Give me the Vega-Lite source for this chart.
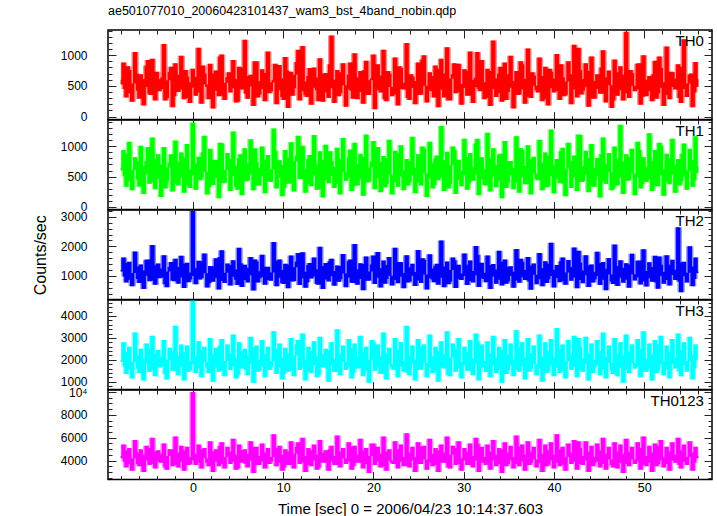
{
"$schema": "https://vega.github.io/schema/vega-lite/v6.json",
"background": "white",
"padding": {"left": 31, "top": 4, "right": 0, "bottom": 0},
"spacing": 0,
"bounds": "flush",
"config": {
  "view": {"stroke": "black", "strokeWidth": 1.5},
  "font": "Liberation Sans",
  "concat": {"spacing": 0},
  "axis": {"domain": false, "grid": false, "tickColor": "#222", "tickWidth": 1, "labelFont": "Liberation Sans", "labelFontSize": 12, "labelColor": "black", "titleFont": "Liberation Sans", "titleFontSize": 16, "titleFontWeight": "normal", "titleColor": "black", "labelFlush": false, "labelOverlap": false}
},
"datasets": {"lc": [
{"t":-8,"a":520,"b":600,"c":1150,"d":1900,"e":4200},
{"t":-7.68,"a":880,"b":940,"c":1620,"d":2800,"e":5400},
{"t":-7.36,"a":310,"b":330,"c":780,"d":1350,"e":3400},
{"t":-7.04,"a":760,"b":1080,"c":1480,"d":2600,"e":5100},
{"t":-6.72,"a":240,"b":270,"c":650,"d":1150,"e":3100},
{"t":-6.4,"a":1050,"b":820,"c":1830,"d":3250,"e":5800},
{"t":-6.08,"a":420,"b":450,"c":900,"d":1600,"e":3700},
{"t":-5.76,"a":690,"b":1010,"c":1390,"d":2500,"e":5000},
{"t":-5.44,"a":180,"b":210,"c":560,"d":1050,"e":3000},
{"t":-5.12,"a":830,"b":760,"c":1550,"d":2750,"e":5300},
{"t":-4.8,"a":370,"b":380,"c":820,"d":1450,"e":3600},
{"t":-4.48,"a":940,"b":1150,"c":2050,"d":3100,"e":6000},
{"t":-4.16,"a":260,"b":290,"c":700,"d":1250,"e":3300},
{"t":-3.84,"a":610,"b":870,"c":1420,"d":2450,"e":4900},
{"t":-3.52,"a":450,"b":160,"c":950,"d":1700,"e":3800},
{"t":-3.2,"a":1180,"b":990,"c":1700,"d":2900,"e":5500},
{"t":-2.88,"a":300,"b":420,"c":620,"d":1100,"e":3200},
{"t":-2.56,"a":720,"b":730,"c":1300,"d":2550,"e":5000},
{"t":-2.24,"a":150,"b":250,"c":850,"d":1500,"e":3500},
{"t":-1.92,"a":870,"b":1100,"c":1580,"d":3550,"e":6100},
{"t":-1.6,"a":400,"b":350,"c":740,"d":1300,"e":3400},
{"t":-1.28,"a":990,"b":900,"c":1680,"d":2700,"e":5300},
{"t":-0.96,"a":280,"b":230,"c":590,"d":1050,"e":3100},
{"t":-0.64,"a":650,"b":1040,"c":1450,"d":2650,"e":5200},
{"t":-0.32,"a":220,"b":310,"c":880,"d":1550,"e":3700},
{"t":0,"a":780,"b":1400,"c":3200,"d":4700,"e":10000},
{"t":0.32,"a":340,"b":280,"c":720,"d":1400,"e":3600},
{"t":0.64,"a":1120,"b":830,"c":1510,"d":2850,"e":5400},
{"t":0.96,"a":210,"b":470,"c":930,"d":1200,"e":3300},
{"t":1.28,"a":700,"b":1180,"c":1760,"d":2600,"e":5100},
{"t":1.6,"a":480,"b":200,"c":610,"d":1650,"e":3800},
{"t":1.92,"a":860,"b":960,"c":1340,"d":3000,"e":5700},
{"t":2.24,"a":130,"b":360,"c":800,"d":1000,"e":3000},
{"t":2.56,"a":750,"b":780,"c":1600,"d":2550,"e":5000},
{"t":2.88,"a":330,"b":140,"c":540,"d":1450,"e":3500},
{"t":3.2,"a":1010,"b":1050,"c":1870,"d":2950,"e":5600},
{"t":3.52,"a":270,"b":400,"c":760,"d":1250,"e":3300},
{"t":3.84,"a":640,"b":890,"c":1420,"d":2700,"e":5200},
{"t":4.16,"a":390,"b":260,"c":680,"d":1550,"e":3700},
{"t":4.48,"a":920,"b":1250,"c":1530,"d":3150,"e":5900},
{"t":4.8,"a":230,"b":330,"c":870,"d":1150,"e":3200},
{"t":5.12,"a":810,"b":800,"c":1950,"d":2800,"e":5400},
{"t":5.44,"a":440,"b":190,"c":630,"d":1600,"e":3800},
{"t":5.76,"a":1250,"b":970,"c":1380,"d":2500,"e":5000},
{"t":6.08,"a":290,"b":440,"c":780,"d":1300,"e":3400},
{"t":6.4,"a":680,"b":1120,"c":1640,"d":3050,"e":5700},
{"t":6.72,"a":170,"b":270,"c":510,"d":950,"e":2900},
{"t":7.04,"a":900,"b":740,"c":1490,"d":2650,"e":5200},
{"t":7.36,"a":360,"b":350,"c":920,"d":1500,"e":3600},
{"t":7.68,"a":770,"b":1000,"c":1720,"d":2900,"e":5500},
{"t":8,"a":250,"b":220,"c":700,"d":1200,"e":3300},
{"t":8.32,"a":1060,"b":860,"c":1310,"d":2600,"e":5100},
{"t":8.64,"a":410,"b":410,"c":840,"d":1700,"e":3900},
{"t":8.96,"a":600,"b":1300,"c":2150,"d":3300,"e":6300},
{"t":9.28,"a":200,"b":300,"c":650,"d":1350,"e":3500},
{"t":9.6,"a":840,"b":770,"c":1560,"d":2750,"e":5300},
{"t":9.92,"a":320,"b":170,"c":760,"d":1100,"e":3100},
{"t":10.24,"a":970,"b":940,"c":1410,"d":2550,"e":5000},
{"t":10.56,"a":140,"b":380,"c":580,"d":1450,"e":3600},
{"t":10.88,"a":730,"b":1070,"c":1690,"d":3000,"e":5700},
{"t":11.2,"a":460,"b":250,"c":830,"d":1250,"e":3300},
{"t":11.52,"a":890,"b":850,"c":1480,"d":2700,"e":5200},
{"t":11.84,"a":260,"b":460,"c":690,"d":1550,"e":3700},
{"t":12.16,"a":1150,"b":1010,"c":1800,"d":3200,"e":6000},
{"t":12.48,"a":350,"b":230,"c":600,"d":1050,"e":3000},
{"t":12.8,"a":660,"b":790,"c":1370,"d":2600,"e":5100},
{"t":13.12,"a":190,"b":340,"c":910,"d":1400,"e":3500},
{"t":13.44,"a":800,"b":1190,"c":1620,"d":2850,"e":5400},
{"t":13.76,"a":430,"b":280,"c":740,"d":1200,"e":3200},
{"t":14.08,"a":950,"b":920,"c":1990,"d":3050,"e":5800},
{"t":14.4,"a":240,"b":150,"c":560,"d":1650,"e":3800},
{"t":14.72,"a":710,"b":1030,"c":1440,"d":2500,"e":4900},
{"t":15.04,"a":300,"b":390,"c":810,"d":1000,"e":3100},
{"t":15.36,"a":1320,"b":760,"c":1580,"d":2800,"e":5300},
{"t":15.68,"a":220,"b":310,"c":670,"d":1450,"e":3600},
{"t":16,"a":760,"b":980,"c":1350,"d":3400,"e":6200},
{"t":16.32,"a":380,"b":200,"c":890,"d":1300,"e":3400},
{"t":16.64,"a":870,"b":1140,"c":1740,"d":2650,"e":5100},
{"t":16.96,"a":160,"b":430,"c":620,"d":1550,"e":3700},
{"t":17.28,"a":680,"b":820,"c":1500,"d":2950,"e":5600},
{"t":17.6,"a":420,"b":260,"c":780,"d":1150,"e":3200},
{"t":17.92,"a":1030,"b":1060,"c":2080,"d":2750,"e":5300},
{"t":18.24,"a":280,"b":350,"c":700,"d":1600,"e":3800},
{"t":18.56,"a":740,"b":880,"c":1430,"d":3100,"e":5900},
{"t":18.88,"a":210,"b":180,"c":520,"d":1250,"e":3300},
{"t":19.2,"a":910,"b":1200,"c":1660,"d":2600,"e":5100},
{"t":19.52,"a":350,"b":420,"c":850,"d":950,"e":2900},
{"t":19.84,"a":620,"b":750,"c":1390,"d":2900,"e":5500},
{"t":20.16,"a":120,"b":290,"c":730,"d":1500,"e":3600},
{"t":20.48,"a":850,"b":990,"c":1810,"d":2700,"e":5200},
{"t":20.8,"a":390,"b":240,"c":610,"d":1350,"e":3400},
{"t":21.12,"a":1090,"b":840,"c":1520,"d":3250,"e":6100},
{"t":21.44,"a":250,"b":370,"c":900,"d":1100,"e":3100},
{"t":21.76,"a":700,"b":1110,"c":1640,"d":2550,"e":5000},
{"t":22.08,"a":330,"b":200,"c":680,"d":1650,"e":3800},
{"t":22.4,"a":960,"b":930,"c":1950,"d":3000,"e":5700},
{"t":22.72,"a":180,"b":330,"c":750,"d":1200,"e":3300},
{"t":23.04,"a":790,"b":1020,"c":1460,"d":2800,"e":5400},
{"t":23.36,"a":440,"b":270,"c":580,"d":1450,"e":3500},
{"t":23.68,"a":1200,"b":790,"c":1700,"d":3550,"e":6400},
{"t":24,"a":270,"b":410,"c":820,"d":1300,"e":3400},
{"t":24.32,"a":650,"b":1160,"c":1410,"d":2650,"e":5200},
{"t":24.64,"a":200,"b":220,"c":660,"d":1050,"e":3000},
{"t":24.96,"a":880,"b":870,"c":1880,"d":2950,"e":5600},
{"t":25.28,"a":360,"b":350,"c":760,"d":1550,"e":3700},
{"t":25.6,"a":1000,"b":960,"c":1550,"d":2700,"e":5300},
{"t":25.92,"a":230,"b":160,"c":540,"d":1200,"e":3200},
{"t":26.24,"a":720,"b":1080,"c":1730,"d":3150,"e":5900},
{"t":26.56,"a":410,"b":300,"c":880,"d":1400,"e":3500},
{"t":26.88,"a":830,"b":800,"c":1340,"d":2600,"e":5100},
{"t":27.2,"a":150,"b":440,"c":700,"d":1000,"e":3000},
{"t":27.52,"a":940,"b":1340,"c":2200,"d":2850,"e":5400},
{"t":27.84,"a":310,"b":260,"c":620,"d":1600,"e":3800},
{"t":28.16,"a":1130,"b":910,"c":1490,"d":3300,"e":6100},
{"t":28.48,"a":260,"b":380,"c":810,"d":1250,"e":3300},
{"t":28.8,"a":690,"b":1000,"c":1620,"d":2750,"e":5300},
{"t":29.12,"a":380,"b":210,"c":590,"d":1450,"e":3600},
{"t":29.44,"a":860,"b":780,"c":1380,"d":3000,"e":5700},
{"t":29.76,"a":190,"b":340,"c":860,"d":1150,"e":3100},
{"t":30.08,"a":770,"b":1130,"c":1760,"d":2600,"e":5100},
{"t":30.4,"a":340,"b":280,"c":690,"d":1500,"e":3600},
{"t":30.72,"a":1060,"b":890,"c":1520,"d":2900,"e":5500},
{"t":31.04,"a":220,"b":430,"c":780,"d":1300,"e":3400},
{"t":31.36,"a":630,"b":1050,"c":2010,"d":3200,"e":6000},
{"t":31.68,"a":450,"b":190,"c":630,"d":1050,"e":3000},
{"t":32,"a":920,"b":820,"c":1450,"d":2700,"e":5200},
{"t":32.32,"a":280,"b":360,"c":900,"d":1650,"e":3800},
{"t":32.64,"a":780,"b":1230,"c":1690,"d":2850,"e":5400},
{"t":32.96,"a":170,"b":250,"c":560,"d":1200,"e":3200},
{"t":33.28,"a":1240,"b":970,"c":1400,"d":3100,"e":5800},
{"t":33.6,"a":320,"b":320,"c":740,"d":1400,"e":3500},
{"t":33.92,"a":700,"b":860,"c":1850,"d":2600,"e":5100},
{"t":34.24,"a":240,"b":140,"c":680,"d":950,"e":2900},
{"t":34.56,"a":880,"b":1090,"c":1560,"d":2950,"e":5600},
{"t":34.88,"a":400,"b":400,"c":820,"d":1550,"e":3700},
{"t":35.2,"a":990,"b":760,"c":1330,"d":2750,"e":5300},
{"t":35.52,"a":130,"b":290,"c":600,"d":1250,"e":3300},
{"t":35.84,"a":740,"b":1170,"c":1910,"d":3350,"e":6200},
{"t":36.16,"a":360,"b":230,"c":770,"d":1450,"e":3500},
{"t":36.48,"a":850,"b":940,"c":1480,"d":2800,"e":5400},
{"t":36.8,"a":210,"b":370,"c":860,"d":1100,"e":3100},
{"t":37.12,"a":1110,"b":1020,"c":1640,"d":3000,"e":5700},
{"t":37.44,"a":300,"b":200,"c":530,"d":1600,"e":3800},
{"t":37.76,"a":670,"b":830,"c":1420,"d":2650,"e":5200},
{"t":38.08,"a":430,"b":450,"c":720,"d":1300,"e":3400},
{"t":38.4,"a":960,"b":1110,"c":1780,"d":3150,"e":5900},
{"t":38.72,"a":250,"b":270,"c":650,"d":1000,"e":3000},
{"t":39.04,"a":810,"b":900,"c":1500,"d":2800,"e":5400},
{"t":39.36,"a":180,"b":340,"c":890,"d":1500,"e":3600},
{"t":39.68,"a":730,"b":1280,"c":2120,"d":2950,"e":5600},
{"t":40,"a":390,"b":220,"c":610,"d":1250,"e":3300},
{"t":40.32,"a":1020,"b":790,"c":1370,"d":3450,"e":6300},
{"t":40.64,"a":270,"b":390,"c":790,"d":1400,"e":3500},
{"t":40.96,"a":640,"b":980,"c":1620,"d":2700,"e":5200},
{"t":41.28,"a":350,"b":170,"c":700,"d":1150,"e":3100},
{"t":41.6,"a":900,"b":1060,"c":1540,"d":2900,"e":5500},
{"t":41.92,"a":200,"b":310,"c":840,"d":1550,"e":3700},
{"t":42.24,"a":1170,"b":850,"c":1960,"d":3100,"e":5800},
{"t":42.56,"a":310,"b":260,"c":580,"d":1200,"e":3200},
{"t":42.88,"a":760,"b":1190,"c":1450,"d":2600,"e":5100},
{"t":43.2,"a":420,"b":420,"c":750,"d":1450,"e":3600},
{"t":43.52,"a":870,"b":930,"c":1700,"d":3050,"e":5700},
{"t":43.84,"a":160,"b":240,"c":630,"d":1050,"e":3000},
{"t":44.16,"a":980,"b":1040,"c":1390,"d":2750,"e":5300},
{"t":44.48,"a":290,"b":330,"c":880,"d":1650,"e":3800},
{"t":44.8,"a":690,"b":810,"c":1820,"d":2900,"e":5500},
{"t":45.12,"a":370,"b":150,"c":690,"d":1300,"e":3400},
{"t":45.44,"a":1080,"b":1150,"c":1470,"d":3250,"e":6000},
{"t":45.76,"a":230,"b":380,"c":520,"d":1150,"e":3200},
{"t":46.08,"a":750,"b":890,"c":1610,"d":2650,"e":5200},
{"t":46.4,"a":140,"b":270,"c":810,"d":1500,"e":3600},
{"t":46.72,"a":930,"b":1000,"c":2060,"d":3000,"e":5600},
{"t":47.04,"a":340,"b":350,"c":660,"d":1250,"e":3300},
{"t":47.36,"a":820,"b":1360,"c":1530,"d":2800,"e":5400},
{"t":47.68,"a":260,"b":210,"c":770,"d":950,"e":2900},
{"t":48,"a":1380,"b":870,"c":1430,"d":3150,"e":5900},
{"t":48.32,"a":300,"b":440,"c":600,"d":1400,"e":3500},
{"t":48.64,"a":710,"b":960,"c":1750,"d":2700,"e":5200},
{"t":48.96,"a":410,"b":190,"c":850,"d":1600,"e":3700},
{"t":49.28,"a":860,"b":1080,"c":1510,"d":2950,"e":5600},
{"t":49.6,"a":190,"b":300,"c":710,"d":1200,"e":3200},
{"t":49.92,"a":1000,"b":820,"c":1900,"d":3300,"e":6100},
{"t":50.24,"a":330,"b":410,"c":640,"d":1450,"e":3500},
{"t":50.56,"a":660,"b":1220,"c":1460,"d":2750,"e":5300},
{"t":50.88,"a":250,"b":260,"c":800,"d":1050,"e":3000},
{"t":51.2,"a":910,"b":940,"c":1680,"d":2900,"e":5500},
{"t":51.52,"a":380,"b":340,"c":570,"d":1550,"e":3700},
{"t":51.84,"a":790,"b":1010,"c":1380,"d":3100,"e":5800},
{"t":52.16,"a":170,"b":180,"c":740,"d":1300,"e":3400},
{"t":52.48,"a":1140,"b":880,"c":1700,"d":2650,"e":5200},
{"t":52.8,"a":280,"b":370,"c":680,"d":1150,"e":3100},
{"t":53.12,"a":720,"b":1130,"c":1550,"d":2950,"e":5600},
{"t":53.44,"a":440,"b":230,"c":860,"d":1600,"e":3800},
{"t":53.76,"a":850,"b":790,"c":2650,"d":3200,"e":6000},
{"t":54.08,"a":220,"b":420,"c":450,"d":1250,"e":3300},
{"t":54.4,"a":1260,"b":1050,"c":1480,"d":2800,"e":5400},
{"t":54.72,"a":320,"b":280,"c":780,"d":1450,"e":3600},
{"t":55.04,"a":680,"b":960,"c":2000,"d":3050,"e":5700},
{"t":55.36,"a":150,"b":330,"c":650,"d":1100,"e":3100},
{"t":55.68,"a":890,"b":1170,"c":1620,"d":2700,"e":5200},
{"t":56,"a":480,"b":560,"c":1100,"d":2000,"e":4200},
{"t":-7.84,"a":600,"b":650,"c":1200,"d":2000,"e":4400},
{"t":-7.52,"a":450,"b":500,"c":980,"d":1700,"e":3900},
{"t":-7.2,"a":820,"b":880,"c":1450,"d":2350,"e":4900},
{"t":-6.88,"a":380,"b":420,"c":870,"d":1550,"e":3700},
{"t":-6.56,"a":540,"b":610,"c":1100,"d":1900,"e":4200},
{"t":-6.24,"a":700,"b":760,"c":1320,"d":2200,"e":4700},
{"t":-5.92,"a":290,"b":330,"c":760,"d":1400,"e":3500},
{"t":-5.6,"a":610,"b":680,"c":1180,"d":2050,"e":4500},
{"t":-5.28,"a":480,"b":540,"c":1010,"d":1800,"e":4000},
{"t":-4.96,"a":920,"b":990,"c":1560,"d":2500,"e":5100},
{"t":-4.64,"a":350,"b":400,"c":840,"d":1500,"e":3700},
{"t":-4.32,"a":560,"b":620,"c":1130,"d":1950,"e":4300},
{"t":-4,"a":730,"b":790,"c":1380,"d":2300,"e":4800},
{"t":-3.68,"a":410,"b":460,"c":920,"d":1650,"e":3900},
{"t":-3.36,"a":640,"b":700,"c":1250,"d":2150,"e":4600},
{"t":-3.04,"a":260,"b":300,"c":720,"d":1350,"e":3400},
{"t":-2.72,"a":590,"b":650,"c":1150,"d":2000,"e":4400},
{"t":-2.4,"a":810,"b":870,"c":1470,"d":2400,"e":5000},
{"t":-2.08,"a":330,"b":380,"c":820,"d":1500,"e":3600},
{"t":-1.76,"a":500,"b":560,"c":1060,"d":1850,"e":4100},
{"t":-1.44,"a":680,"b":740,"c":1300,"d":2200,"e":4700},
{"t":-1.12,"a":440,"b":490,"c":950,"d":1700,"e":3900},
{"t":-0.8,"a":760,"b":820,"c":1420,"d":2350,"e":4900},
{"t":-0.48,"a":300,"b":350,"c":790,"d":1450,"e":3600},
{"t":-0.16,"a":560,"b":620,"c":1120,"d":1950,"e":4300},
{"t":0.16,"a":470,"b":520,"c":1000,"d":1800,"e":4000},
{"t":0.48,"a":650,"b":720,"c":1260,"d":2150,"e":4600},
{"t":0.8,"a":390,"b":440,"c":880,"d":1600,"e":3800},
{"t":1.12,"a":830,"b":900,"c":1500,"d":2450,"e":5000},
{"t":1.44,"a":520,"b":580,"c":1090,"d":1900,"e":4200},
{"t":1.76,"a":280,"b":320,"c":750,"d":1400,"e":3500},
{"t":2.08,"a":700,"b":770,"c":1330,"d":2250,"e":4800},
{"t":2.4,"a":600,"b":660,"c":1190,"d":2050,"e":4400},
{"t":2.72,"a":420,"b":470,"c":930,"d":1650,"e":3900},
{"t":3.04,"a":980,"b":1060,"c":1640,"d":2650,"e":5300},
{"t":3.36,"a":340,"b":390,"c":830,"d":1500,"e":3700},
{"t":3.68,"a":550,"b":610,"c":1110,"d":1950,"e":4300},
{"t":4,"a":720,"b":790,"c":1370,"d":2300,"e":4800},
{"t":4.32,"a":460,"b":510,"c":970,"d":1700,"e":3900},
{"t":4.64,"a":610,"b":680,"c":1220,"d":2100,"e":4500},
{"t":4.96,"a":240,"b":280,"c":690,"d":1300,"e":3300},
{"t":5.28,"a":800,"b":870,"c":1430,"d":2400,"e":4900},
{"t":5.6,"a":530,"b":590,"c":1080,"d":1900,"e":4200},
{"t":5.92,"a":370,"b":420,"c":860,"d":1550,"e":3700},
{"t":6.24,"a":660,"b":720,"c":1280,"d":2200,"e":4600},
{"t":6.56,"a":490,"b":540,"c":1020,"d":1800,"e":4000},
{"t":6.88,"a":900,"b":970,"c":1560,"d":2550,"e":5200},
{"t":7.2,"a":310,"b":360,"c":780,"d":1450,"e":3600},
{"t":7.52,"a":580,"b":640,"c":1160,"d":2000,"e":4400},
{"t":7.84,"a":450,"b":500,"c":960,"d":1700,"e":3900},
{"t":8.16,"a":710,"b":780,"c":1310,"d":2250,"e":4700},
{"t":8.48,"a":380,"b":430,"c":860,"d":1550,"e":3700},
{"t":8.8,"a":560,"b":620,"c":1120,"d":1950,"e":4300},
{"t":9.12,"a":860,"b":930,"c":1520,"d":2500,"e":5100},
{"t":9.44,"a":430,"b":480,"c":940,"d":1650,"e":3800},
{"t":9.76,"a":620,"b":690,"c":1200,"d":2100,"e":4500},
{"t":10.08,"a":270,"b":310,"c":730,"d":1350,"e":3400},
{"t":10.4,"a":750,"b":820,"c":1390,"d":2300,"e":4800},
{"t":10.72,"a":500,"b":560,"c":1050,"d":1850,"e":4100},
{"t":11.04,"a":340,"b":390,"c":810,"d":1500,"e":3600},
{"t":11.36,"a":680,"b":750,"c":1290,"d":2200,"e":4600},
{"t":11.68,"a":1090,"b":1180,"c":1780,"d":2900,"e":5600},
{"t":12,"a":410,"b":460,"c":920,"d":1650,"e":3800},
{"t":12.32,"a":570,"b":630,"c":1140,"d":2000,"e":4400},
{"t":12.64,"a":320,"b":370,"c":790,"d":1450,"e":3600},
{"t":12.96,"a":790,"b":860,"c":1440,"d":2400,"e":4900},
{"t":13.28,"a":470,"b":520,"c":980,"d":1750,"e":4000},
{"t":13.6,"a":630,"b":700,"c":1230,"d":2150,"e":4500},
{"t":13.92,"a":250,"b":290,"c":700,"d":1300,"e":3400},
{"t":14.24,"a":700,"b":770,"c":1340,"d":2250,"e":4700},
{"t":14.56,"a":540,"b":600,"c":1090,"d":1900,"e":4200},
{"t":14.88,"a":390,"b":440,"c":880,"d":1600,"e":3800},
{"t":15.2,"a":850,"b":920,"c":1500,"d":2450,"e":5000},
{"t":15.52,"a":460,"b":510,"c":990,"d":1750,"e":3900},
{"t":15.84,"a":600,"b":660,"c":1170,"d":2050,"e":4400},
{"t":16.16,"a":330,"b":380,"c":800,"d":1450,"e":3600},
{"t":16.48,"a":720,"b":790,"c":1340,"d":2250,"e":4800},
{"t":16.8,"a":510,"b":570,"c":1080,"d":1900,"e":4200},
{"t":17.12,"a":440,"b":490,"c":950,"d":1700,"e":3900},
{"t":17.44,"a":880,"b":950,"c":1560,"d":2550,"e":5200},
{"t":17.76,"a":290,"b":340,"c":760,"d":1400,"e":3500},
{"t":18.08,"a":640,"b":710,"c":1230,"d":2150,"e":4500},
{"t":18.4,"a":560,"b":620,"c":1110,"d":1950,"e":4300},
{"t":18.72,"a":400,"b":450,"c":900,"d":1600,"e":3800},
{"t":19.04,"a":760,"b":830,"c":1400,"d":2350,"e":4900},
{"t":19.36,"a":350,"b":400,"c":840,"d":1500,"e":3700},
{"t":19.68,"a":590,"b":650,"c":1150,"d":2000,"e":4400},
{"t":20,"a":1010,"b":1090,"c":1690,"d":2800,"e":5500},
{"t":20.32,"a":430,"b":480,"c":940,"d":1650,"e":3900},
{"t":20.64,"a":520,"b":580,"c":1060,"d":1850,"e":4100},
{"t":20.96,"a":670,"b":740,"c":1260,"d":2200,"e":4600},
{"t":21.28,"a":280,"b":320,"c":740,"d":1350,"e":3500},
{"t":21.6,"a":740,"b":810,"c":1370,"d":2300,"e":4800},
{"t":21.92,"a":480,"b":530,"c":1010,"d":1800,"e":4000},
{"t":22.24,"a":360,"b":410,"c":860,"d":1550,"e":3700},
{"t":22.56,"a":610,"b":670,"c":1190,"d":2100,"e":4500},
{"t":22.88,"a":820,"b":890,"c":1470,"d":2450,"e":5000},
{"t":23.2,"a":450,"b":500,"c":970,"d":1700,"e":3900},
{"t":23.52,"a":550,"b":610,"c":1100,"d":1950,"e":4300},
{"t":23.84,"a":300,"b":350,"c":780,"d":1400,"e":3500},
{"t":24.16,"a":690,"b":760,"c":1290,"d":2200,"e":4700},
{"t":24.48,"a":470,"b":520,"c":1010,"d":1800,"e":4000},
{"t":24.8,"a":580,"b":640,"c":1130,"d":2000,"e":4300},
{"t":25.12,"a":350,"b":400,"c":850,"d":1550,"e":3700},
{"t":25.44,"a":930,"b":1000,"c":1600,"d":2600,"e":5200},
{"t":25.76,"a":500,"b":560,"c":1050,"d":1850,"e":4100},
{"t":26.08,"a":420,"b":470,"c":920,"d":1650,"e":3800},
{"t":26.4,"a":660,"b":730,"c":1250,"d":2150,"e":4600},
{"t":26.72,"a":310,"b":360,"c":790,"d":1450,"e":3600},
{"t":27.04,"a":780,"b":850,"c":1410,"d":2400,"e":4900},
{"t":27.36,"a":560,"b":620,"c":1120,"d":1950,"e":4200},
{"t":27.68,"a":440,"b":490,"c":940,"d":1650,"e":3800},
{"t":28,"a":700,"b":770,"c":1320,"d":2250,"e":4700},
{"t":28.32,"a":260,"b":300,"c":720,"d":1300,"e":3400},
{"t":28.64,"a":620,"b":690,"c":1200,"d":2100,"e":4500},
{"t":28.96,"a":870,"b":940,"c":1530,"d":2500,"e":5100},
{"t":29.28,"a":390,"b":440,"c":890,"d":1600,"e":3700},
{"t":29.6,"a":530,"b":590,"c":1080,"d":1900,"e":4200},
{"t":29.92,"a":470,"b":520,"c":1000,"d":1750,"e":4000},
{"t":30.24,"a":750,"b":820,"c":1380,"d":2350,"e":4800},
{"t":30.56,"a":340,"b":390,"c":830,"d":1500,"e":3600},
{"t":30.88,"a":600,"b":660,"c":1170,"d":2050,"e":4400},
{"t":31.2,"a":480,"b":530,"c":1020,"d":1800,"e":4000},
{"t":31.52,"a":1050,"b":1130,"c":1720,"d":2850,"e":5500},
{"t":31.84,"a":410,"b":460,"c":910,"d":1600,"e":3800},
{"t":32.16,"a":560,"b":620,"c":1110,"d":1950,"e":4300},
{"t":32.48,"a":300,"b":350,"c":790,"d":1450,"e":3600},
{"t":32.8,"a":740,"b":810,"c":1370,"d":2300,"e":4800},
{"t":33.12,"a":450,"b":500,"c":980,"d":1750,"e":4000},
{"t":33.44,"a":620,"b":690,"c":1220,"d":2100,"e":4500},
{"t":33.76,"a":380,"b":430,"c":870,"d":1550,"e":3700},
{"t":34.08,"a":810,"b":880,"c":1480,"d":2450,"e":5000},
{"t":34.4,"a":520,"b":580,"c":1060,"d":1850,"e":4100},
{"t":34.72,"a":270,"b":310,"c":740,"d":1350,"e":3500},
{"t":35.04,"a":690,"b":760,"c":1310,"d":2250,"e":4700},
{"t":35.36,"a":470,"b":520,"c":1000,"d":1750,"e":4000},
{"t":35.68,"a":580,"b":640,"c":1140,"d":2000,"e":4300},
{"t":36,"a":350,"b":400,"c":850,"d":1550,"e":3700},
{"t":36.32,"a":900,"b":970,"c":1580,"d":2600,"e":5200},
{"t":36.64,"a":440,"b":490,"c":960,"d":1700,"e":3900},
{"t":36.96,"a":610,"b":680,"c":1200,"d":2100,"e":4500},
{"t":37.28,"a":320,"b":370,"c":810,"d":1450,"e":3600},
{"t":37.6,"a":720,"b":790,"c":1350,"d":2300,"e":4800},
{"t":37.92,"a":500,"b":550,"c":1040,"d":1800,"e":4100},
{"t":38.24,"a":390,"b":440,"c":890,"d":1600,"e":3800},
{"t":38.56,"a":660,"b":730,"c":1260,"d":2150,"e":4600},
{"t":38.88,"a":540,"b":600,"c":1090,"d":1900,"e":4200},
{"t":39.2,"a":280,"b":320,"c":760,"d":1400,"e":3500},
{"t":39.52,"a":780,"b":850,"c":1420,"d":2400,"e":4900},
{"t":39.84,"a":460,"b":510,"c":1000,"d":1750,"e":4000},
{"t":40.16,"a":620,"b":690,"c":1210,"d":2100,"e":4500},
{"t":40.48,"a":410,"b":460,"c":930,"d":1650,"e":3800},
{"t":40.8,"a":850,"b":920,"c":1500,"d":2500,"e":5000},
{"t":41.12,"a":330,"b":380,"c":820,"d":1500,"e":3600},
{"t":41.44,"a":570,"b":630,"c":1120,"d":1950,"e":4300},
{"t":41.76,"a":690,"b":760,"c":1300,"d":2250,"e":4700},
{"t":42.08,"a":440,"b":490,"c":950,"d":1700,"e":3900},
{"t":42.4,"a":520,"b":580,"c":1070,"d":1850,"e":4100},
{"t":42.72,"a":1120,"b":1200,"c":1850,"d":3000,"e":5700},
{"t":43.04,"a":360,"b":410,"c":860,"d":1550,"e":3700},
{"t":43.36,"a":610,"b":670,"c":1180,"d":2050,"e":4400},
{"t":43.68,"a":480,"b":530,"c":1020,"d":1800,"e":4000},
{"t":44,"a":740,"b":810,"c":1360,"d":2300,"e":4800},
{"t":44.32,"a":290,"b":340,"c":780,"d":1400,"e":3500},
{"t":44.64,"a":580,"b":640,"c":1140,"d":2000,"e":4300},
{"t":44.96,"a":450,"b":500,"c":990,"d":1750,"e":3900},
{"t":45.28,"a":800,"b":870,"c":1440,"d":2400,"e":4900},
{"t":45.6,"a":370,"b":420,"c":870,"d":1550,"e":3700},
{"t":45.92,"a":640,"b":710,"c":1240,"d":2150,"e":4600},
{"t":46.24,"a":510,"b":570,"c":1050,"d":1850,"e":4100},
{"t":46.56,"a":260,"b":300,"c":730,"d":1350,"e":3400},
{"t":46.88,"a":720,"b":790,"c":1340,"d":2300,"e":4800},
{"t":47.2,"a":430,"b":480,"c":940,"d":1650,"e":3800},
{"t":47.52,"a":590,"b":650,"c":1160,"d":2000,"e":4400},
{"t":47.84,"a":680,"b":750,"c":1280,"d":2200,"e":4600},
{"t":48.16,"a":380,"b":430,"c":870,"d":1550,"e":3700},
{"t":48.48,"a":760,"b":830,"c":1390,"d":2350,"e":4800},
{"t":48.8,"a":500,"b":550,"c":1060,"d":1850,"e":4100},
{"t":49.12,"a":440,"b":490,"c":960,"d":1700,"e":3900},
{"t":49.44,"a":870,"b":940,"c":1520,"d":2500,"e":5100},
{"t":49.76,"a":320,"b":370,"c":810,"d":1450,"e":3600},
{"t":50.08,"a":600,"b":660,"c":1170,"d":2050,"e":4400},
{"t":50.4,"a":530,"b":590,"c":1080,"d":1900,"e":4200},
{"t":50.72,"a":410,"b":460,"c":920,"d":1600,"e":3800},
{"t":51.04,"a":690,"b":760,"c":1300,"d":2250,"e":4700},
{"t":51.36,"a":290,"b":340,"c":780,"d":1400,"e":3500},
{"t":51.68,"a":980,"b":1060,"c":1660,"d":2700,"e":5300},
{"t":52,"a":470,"b":520,"c":1010,"d":1800,"e":4000},
{"t":52.32,"a":560,"b":620,"c":1130,"d":1950,"e":4300},
{"t":52.64,"a":350,"b":400,"c":860,"d":1550,"e":3700},
{"t":52.96,"a":730,"b":800,"c":1380,"d":2350,"e":4800},
{"t":53.28,"a":480,"b":530,"c":1030,"d":1800,"e":4000},
{"t":53.6,"a":620,"b":690,"c":1210,"d":2100,"e":4500},
{"t":53.92,"a":300,"b":350,"c":800,"d":1450,"e":3600},
{"t":54.24,"a":810,"b":880,"c":1460,"d":2450,"e":4900},
{"t":54.56,"a":450,"b":500,"c":990,"d":1750,"e":3900},
{"t":54.88,"a":540,"b":600,"c":1110,"d":1950,"e":4300},
{"t":55.2,"a":700,"b":770,"c":1320,"d":2250,"e":4700},
{"t":55.52,"a":390,"b":440,"c":900,"d":1600,"e":3800},
{"t":55.84,"a":610,"b":670,"c":1150,"d":2000,"e":4400}
]},
"vconcat": [
{
  "width": 604, "height": 89.6,
  "title": {"text": "ae501077010_20060423101437_wam3_bst_4band_nobin.qdp", "anchor": "start", "frame": "group", "fontSize": 12.5, "fontWeight": "normal", "font": "Liberation Sans", "color": "black", "offset": 7},
  "layer": [
    {"data": {"name": "lc"},
     "transform": [{"window": [{"op": "min", "field": "a", "as": "lo"}, {"op": "max", "field": "a", "as": "hi"}], "sort": [{"field": "t", "order": "ascending"}], "frame": [-2, 2]}],
     "mark": {"type": "area", "color": "#ff0000", "opacity": 0.45, "interpolate": "step", "clip": true},
     "encoding": {
       "x": {"field": "t", "type": "quantitative", "scale": {"domain": [-9.4, 57.5], "nice": false, "zero": false}, "axis": null},
       "y": {"field": "hi", "type": "quantitative", "scale": {"domain": [-50, 1410], "nice": false, "zero": false}, "axis": null},
       "y2": {"field": "lo"}
     }},
    {"data": {"name": "lc"},
     "transform": [{"window": [{"op": "min", "field": "a", "as": "lo"}, {"op": "max", "field": "a", "as": "hi"}], "sort": [{"field": "t", "order": "ascending"}], "frame": [-1, 1]}],
     "mark": {"type": "area", "color": "#ff0000", "interpolate": "step", "clip": true},
     "encoding": {
       "x": {"field": "t", "type": "quantitative", "scale": {"domain": [-9.4, 57.5], "nice": false, "zero": false},
             "axis": {"orient": "bottom", "values": [-8,-6,-4,-2,0,2,4,6,8,10,12,14,16,18,20,22,24,26,28,30,32,34,36,38,40,42,44,46,48,50,52,54,56], "labels": false, "title": null, "tickSize": {"condition": {"test": "datum.value % 10 === 0", "value": -8}, "value": -4}}},
       "y": {"field": "hi", "type": "quantitative", "scale": {"domain": [-50, 1410], "nice": false, "zero": false},
             "axis": {"orient": "left", "values": [0,100,200,300,400,500,600,700,800,900,1000,1100,1200,1300,1400], "format": "d", "labelExpr": "datum.value % 500 === 0 ? datum.label : ''", "labelPadding": 29, "title": null, "tickSize": {"condition": {"test": "datum.value % 500 === 0", "value": -8}, "value": -4}}},
       "y2": {"field": "lo"}
     }},
    {"data": {"values": [{"lab": "TH0"}]}, "mark": {"type": "text", "align": "right", "baseline": "top", "dy": 4, "fontSize": 15, "color": "black"},
     "encoding": {
       "x": {"datum": 56.6, "type": "quantitative", "axis": {"orient": "top", "values": [-8,-6,-4,-2,0,2,4,6,8,10,12,14,16,18,20,22,24,26,28,30,32,34,36,38,40,42,44,46,48,50,52,54,56], "labels": false, "title": null, "tickSize": {"condition": {"test": "datum.value % 10 === 0", "value": -8}, "value": -4}}},
       "y": {"datum": 1410, "type": "quantitative", "axis": {"orient": "right", "values": [0,100,200,300,400,500,600,700,800,900,1000,1100,1200,1300,1400], "labels": false, "title": null, "tickSize": {"condition": {"test": "datum.value % 500 === 0", "value": -8}, "value": -4}}},
       "text": {"field": "lab"}
     }}
  ]
},
{
  "width": 604, "height": 89.6,
  "layer": [
    {"data": {"name": "lc"},
     "transform": [{"window": [{"op": "min", "field": "b", "as": "lo"}, {"op": "max", "field": "b", "as": "hi"}], "sort": [{"field": "t", "order": "ascending"}], "frame": [-2, 2]}],
     "mark": {"type": "area", "color": "#00ff00", "opacity": 0.45, "interpolate": "step", "clip": true},
     "encoding": {
       "x": {"field": "t", "type": "quantitative", "scale": {"domain": [-9.4, 57.5], "nice": false, "zero": false}, "axis": null},
       "y": {"field": "hi", "type": "quantitative", "scale": {"domain": [-50, 1440], "nice": false, "zero": false}, "axis": null},
       "y2": {"field": "lo"}
     }},
    {"data": {"name": "lc"},
     "transform": [{"window": [{"op": "min", "field": "b", "as": "lo"}, {"op": "max", "field": "b", "as": "hi"}], "sort": [{"field": "t", "order": "ascending"}], "frame": [-1, 1]}],
     "mark": {"type": "area", "color": "#00ff00", "interpolate": "step", "clip": true},
     "encoding": {
       "x": {"field": "t", "type": "quantitative", "scale": {"domain": [-9.4, 57.5], "nice": false, "zero": false},
             "axis": {"orient": "bottom", "values": [-8,-6,-4,-2,0,2,4,6,8,10,12,14,16,18,20,22,24,26,28,30,32,34,36,38,40,42,44,46,48,50,52,54,56], "labels": false, "title": null, "tickSize": {"condition": {"test": "datum.value % 10 === 0", "value": -8}, "value": -4}}},
       "y": {"field": "hi", "type": "quantitative", "scale": {"domain": [-50, 1440], "nice": false, "zero": false},
             "axis": {"orient": "left", "values": [0,100,200,300,400,500,600,700,800,900,1000,1100,1200,1300,1400], "format": "d", "labelExpr": "datum.value % 500 === 0 ? datum.label : ''", "labelPadding": 29, "title": null, "tickSize": {"condition": {"test": "datum.value % 500 === 0", "value": -8}, "value": -4}}},
       "y2": {"field": "lo"}
     }},
    {"data": {"values": [{"lab": "TH1"}]}, "mark": {"type": "text", "align": "right", "baseline": "top", "dy": 4, "fontSize": 15, "color": "black"},
     "encoding": {
       "x": {"datum": 56.6, "type": "quantitative", "axis": {"orient": "top", "values": [-8,-6,-4,-2,0,2,4,6,8,10,12,14,16,18,20,22,24,26,28,30,32,34,36,38,40,42,44,46,48,50,52,54,56], "labels": false, "title": null, "tickSize": {"condition": {"test": "datum.value % 10 === 0", "value": -8}, "value": -4}}},
       "y": {"datum": 1440, "type": "quantitative", "axis": {"orient": "right", "values": [0,100,200,300,400,500,600,700,800,900,1000,1100,1200,1300,1400], "labels": false, "title": null, "tickSize": {"condition": {"test": "datum.value % 500 === 0", "value": -8}, "value": -4}}},
       "text": {"field": "lab"}
     }}
  ]
},
{
  "width": 604, "height": 89.6,
  "layer": [
    {"data": {"name": "lc"},
     "transform": [{"window": [{"op": "min", "field": "c", "as": "lo"}, {"op": "max", "field": "c", "as": "hi"}], "sort": [{"field": "t", "order": "ascending"}], "frame": [-2, 2]}],
     "mark": {"type": "area", "color": "#0000ff", "opacity": 0.45, "interpolate": "step", "clip": true},
     "encoding": {
       "x": {"field": "t", "type": "quantitative", "scale": {"domain": [-9.4, 57.5], "nice": false, "zero": false}, "axis": null},
       "y": {"field": "hi", "type": "quantitative", "scale": {"domain": [200, 3230], "nice": false, "zero": false}, "axis": null},
       "y2": {"field": "lo"}
     }},
    {"data": {"name": "lc"},
     "transform": [{"window": [{"op": "min", "field": "c", "as": "lo"}, {"op": "max", "field": "c", "as": "hi"}], "sort": [{"field": "t", "order": "ascending"}], "frame": [-1, 1]}],
     "mark": {"type": "area", "color": "#0000ff", "interpolate": "step", "clip": true},
     "encoding": {
       "x": {"field": "t", "type": "quantitative", "scale": {"domain": [-9.4, 57.5], "nice": false, "zero": false},
             "axis": {"orient": "bottom", "values": [-8,-6,-4,-2,0,2,4,6,8,10,12,14,16,18,20,22,24,26,28,30,32,34,36,38,40,42,44,46,48,50,52,54,56], "labels": false, "title": null, "tickSize": {"condition": {"test": "datum.value % 10 === 0", "value": -8}, "value": -4}}},
       "y": {"field": "hi", "type": "quantitative", "scale": {"domain": [200, 3230], "nice": false, "zero": false},
             "axis": {"orient": "left", "values": [400,600,800,1000,1200,1400,1600,1800,2000,2200,2400,2600,2800,3000,3200], "format": "d", "labelExpr": "datum.value % 1000 === 0 ? datum.label : ''", "labelPadding": 29, "title": "Counts/sec", "titlePadding": 12, "tickSize": {"condition": {"test": "datum.value % 1000 === 0", "value": -8}, "value": -4}}},
       "y2": {"field": "lo"}
     }},
    {"data": {"values": [{"lab": "TH2"}]}, "mark": {"type": "text", "align": "right", "baseline": "top", "dy": 4, "fontSize": 15, "color": "black"},
     "encoding": {
       "x": {"datum": 56.6, "type": "quantitative", "axis": {"orient": "top", "values": [-8,-6,-4,-2,0,2,4,6,8,10,12,14,16,18,20,22,24,26,28,30,32,34,36,38,40,42,44,46,48,50,52,54,56], "labels": false, "title": null, "tickSize": {"condition": {"test": "datum.value % 10 === 0", "value": -8}, "value": -4}}},
       "y": {"datum": 3230, "type": "quantitative", "axis": {"orient": "right", "values": [400,600,800,1000,1200,1400,1600,1800,2000,2200,2400,2600,2800,3000,3200], "labels": false, "title": null, "tickSize": {"condition": {"test": "datum.value % 1000 === 0", "value": -8}, "value": -4}}},
       "text": {"field": "lab"}
     }}
  ]
},
{
  "width": 604, "height": 89.6,
  "layer": [
    {"data": {"name": "lc"},
     "transform": [{"window": [{"op": "min", "field": "d", "as": "lo"}, {"op": "max", "field": "d", "as": "hi"}], "sort": [{"field": "t", "order": "ascending"}], "frame": [-2, 2]}],
     "mark": {"type": "area", "color": "#00ffff", "opacity": 0.45, "interpolate": "step", "clip": true},
     "encoding": {
       "x": {"field": "t", "type": "quantitative", "scale": {"domain": [-9.4, 57.5], "nice": false, "zero": false}, "axis": null},
       "y": {"field": "hi", "type": "quantitative", "scale": {"domain": [640, 4730], "nice": false, "zero": false}, "axis": null},
       "y2": {"field": "lo"}
     }},
    {"data": {"name": "lc"},
     "transform": [{"window": [{"op": "min", "field": "d", "as": "lo"}, {"op": "max", "field": "d", "as": "hi"}], "sort": [{"field": "t", "order": "ascending"}], "frame": [-1, 1]}],
     "mark": {"type": "area", "color": "#00ffff", "interpolate": "step", "clip": true},
     "encoding": {
       "x": {"field": "t", "type": "quantitative", "scale": {"domain": [-9.4, 57.5], "nice": false, "zero": false},
             "axis": {"orient": "bottom", "values": [-8,-6,-4,-2,0,2,4,6,8,10,12,14,16,18,20,22,24,26,28,30,32,34,36,38,40,42,44,46,48,50,52,54,56], "labels": false, "title": null, "tickSize": {"condition": {"test": "datum.value % 10 === 0", "value": -8}, "value": -4}}},
       "y": {"field": "hi", "type": "quantitative", "scale": {"domain": [640, 4730], "nice": false, "zero": false},
             "axis": {"orient": "left", "values": [800,1000,1200,1400,1600,1800,2000,2200,2400,2600,2800,3000,3200,3400,3600,3800,4000,4200,4400,4600], "format": "d", "labelExpr": "datum.value % 1000 === 0 ? datum.label : ''", "labelPadding": 29, "title": null, "tickSize": {"condition": {"test": "datum.value % 1000 === 0", "value": -8}, "value": -4}}},
       "y2": {"field": "lo"}
     }},
    {"data": {"values": [{"lab": "TH3"}]}, "mark": {"type": "text", "align": "right", "baseline": "top", "dy": 4, "fontSize": 15, "color": "black"},
     "encoding": {
       "x": {"datum": 56.6, "type": "quantitative", "axis": {"orient": "top", "values": [-8,-6,-4,-2,0,2,4,6,8,10,12,14,16,18,20,22,24,26,28,30,32,34,36,38,40,42,44,46,48,50,52,54,56], "labels": false, "title": null, "tickSize": {"condition": {"test": "datum.value % 10 === 0", "value": -8}, "value": -4}}},
       "y": {"datum": 4730, "type": "quantitative", "axis": {"orient": "right", "values": [800,1000,1200,1400,1600,1800,2000,2200,2400,2600,2800,3000,3200,3400,3600,3800,4000,4200,4400,4600], "labels": false, "title": null, "tickSize": {"condition": {"test": "datum.value % 1000 === 0", "value": -8}, "value": -4}}},
       "text": {"field": "lab"}
     }}
  ]
},
{
  "width": 604, "height": 89.6,
  "layer": [
    {"data": {"name": "lc"},
     "transform": [{"window": [{"op": "min", "field": "e", "as": "lo"}, {"op": "max", "field": "e", "as": "hi"}], "sort": [{"field": "t", "order": "ascending"}], "frame": [-2, 2]}],
     "mark": {"type": "area", "color": "#ff00ff", "opacity": 0.45, "interpolate": "step", "clip": true},
     "encoding": {
       "x": {"field": "t", "type": "quantitative", "scale": {"domain": [-9.4, 57.5], "nice": false, "zero": false}, "axis": null},
       "y": {"field": "hi", "type": "quantitative", "scale": {"domain": [2330, 10180], "nice": false, "zero": false}, "axis": null},
       "y2": {"field": "lo"}
     }},
    {"data": {"name": "lc"},
     "transform": [{"window": [{"op": "min", "field": "e", "as": "lo"}, {"op": "max", "field": "e", "as": "hi"}], "sort": [{"field": "t", "order": "ascending"}], "frame": [-1, 1]}],
     "mark": {"type": "area", "color": "#ff00ff", "interpolate": "step", "clip": true},
     "encoding": {
       "x": {"field": "t", "type": "quantitative", "scale": {"domain": [-9.4, 57.5], "nice": false, "zero": false},
             "axis": {"orient": "bottom", "values": [-8,-6,-4,-2,0,2,4,6,8,10,12,14,16,18,20,22,24,26,28,30,32,34,36,38,40,42,44,46,48,50,52,54,56], "format": "d", "labelExpr": "datum.value % 10 === 0 ? datum.label : ''", "labelFontSize": 12.5, "labelPadding": 10, "title": "Time [sec] 0 = 2006/04/23 10:14:37.603", "titleFontSize": 15, "titlePadding": 3, "tickSize": {"condition": {"test": "datum.value % 10 === 0", "value": -8}, "value": -4}}},
       "y": {"field": "hi", "type": "quantitative", "scale": {"domain": [2330, 10180], "nice": false, "zero": false},
             "axis": {"orient": "left", "values": [2500,3000,3500,4000,4500,5000,5500,6000,6500,7000,7500,8000,8500,9000,9500,10000], "format": "d", "labelExpr": "datum.value === 10000 ? '10⁴' : (datum.value % 2000 === 0 ? datum.label : '')", "labelPadding": 29, "title": null, "tickSize": {"condition": {"test": "datum.value % 2000 === 0", "value": -8}, "value": -4}}},
       "y2": {"field": "lo"}
     }},
    {"data": {"values": [{"lab": "TH0123"}]}, "mark": {"type": "text", "align": "right", "baseline": "top", "dy": 4, "fontSize": 15, "color": "black"},
     "encoding": {
       "x": {"datum": 56.6, "type": "quantitative", "axis": {"orient": "top", "values": [-8,-6,-4,-2,0,2,4,6,8,10,12,14,16,18,20,22,24,26,28,30,32,34,36,38,40,42,44,46,48,50,52,54,56], "labels": false, "title": null, "tickSize": {"condition": {"test": "datum.value % 10 === 0", "value": -8}, "value": -4}}},
       "y": {"datum": 10180, "type": "quantitative", "axis": {"orient": "right", "values": [2500,3000,3500,4000,4500,5000,5500,6000,6500,7000,7500,8000,8500,9000,9500,10000], "labels": false, "title": null, "tickSize": {"condition": {"test": "datum.value % 2000 === 0", "value": -8}, "value": -4}}},
       "text": {"field": "lab"}
     }}
  ]
}
]
}
